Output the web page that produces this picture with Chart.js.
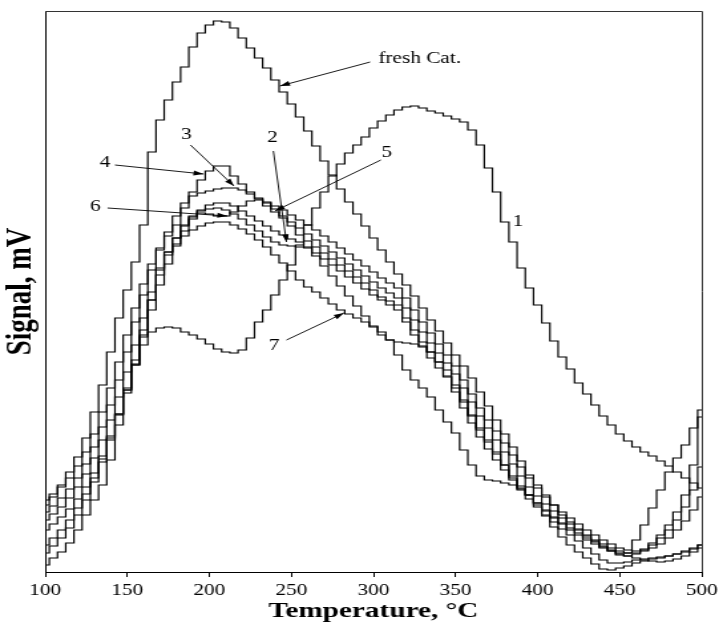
<!DOCTYPE html>
<html>
<head>
<meta charset="utf-8">
<title>Signal vs temperature</title>
<script src="https://cdn.jsdelivr.net/npm/chart.js@4.4.1/dist/chart.umd.min.js"></script>
<style>
  html, body { margin: 0; padding: 0; background: #fff; }
</style>
</head>
<body>
<!-- drawn at 544 px and shown 723 px wide, like the original wide print of the plot -->
<canvas id="tpr" width="544" height="627" style="display:block;width:723px;height:627px"></canvas>
<script>
// temperature grid, °C
const temps = [100,105,110,115,120,125,130,135,140,145,150,155,160,165,170,175,180,185,190,195,
  200,205,210,215,220,225,230,235,240,245,250,255,260,265,270,275,280,285,290,295,
  300,305,310,315,320,325,330,335,340,345,350,355,360,365,370,375,380,385,390,395,
  400,405,410,415,420,425,430,435,440,445,450,455,460,465,470,475,480,485,490,495,500];

// detector signal (arbitrary units above the baseline)
const freshCat = [67,75,87,100,115,134,160,187,220,254, 282,310,347,420,452,472,490,505,525,539,
  547,551,550,544,534,524,514,504,492,480, 468,455,441,426,411,397,383,370,358,346,
  334,322,310,298,287,276,264,252,241,229, 217,206,194,180,166,152,138,125,111,97,
  87,77,67,57,50,43,36,31,26,22, 19,19,32,47,64,82,100,114,127,144, 162];
const sample1 = [7,14,20,29,42,57,72,87,112,147, 179,207,227,240,244,245,244,240,237,233,
  228,223,220,219,222,234,250,262,277,292, 307,327,347,364,380,396,408,419,427,435,
  444,451,457,462,465,466,464,461,459,456, 453,450,442,427,404,380,350,330,304,284,
  267,249,231,215,203,189,178,167,156,147, 138,131,125,120,116,111,106,100,94,89, 84];
const sample2 = [27,34,42,52,64,78,94,113,134,158, 184,212,242,272,297,317,334,347,356,361,
  363,364,362,358,353,347,341,335,330,327, 326,325,324,316,306,296,286,276,266,256,
  246,237,232,230,229,228,226,220,210,196, 180,164,149,135,123,112,102,92,82,73,
  65,57,50,43,37,31,24,18,12,9, 9,10,12,13,14,15,16,18,20,23, 27];
const sample3 = [60,66,74,83,94,108,125,145,167,192, 220,250,277,302,322,340,356,369,376,379,
  381,383,384,384,382,378,374,370,366,362, 357,352,347,342,336,330,324,318,312,306,
  300,294,289,284,274,262,250,239,228,217, 206,192,178,164,152,141,129,117,105,94,
  84,75,67,60,54,48,42,37,32,28, 24,22,21,23,27,34,42,52,65,82, 105];
const sample4 = [72,78,85,94,106,120,138,160,184,210, 237,264,288,308,324,336,347,364,380,392,
  401,406,406,396,388,380,373,366,360,354, 346,337,331,325,319,313,307,301,295,289,
  282,275,271,267,254,242,230,220,210,202, 187,172,157,144,132,120,107,94,84,77,
  69,62,55,49,44,39,34,30,25,21, 17,16,18,22,29,37,47,60,77,107, 155];
const sample5 = [52,58,65,74,85,98,114,132,152,175, 200,227,254,280,302,320,334,346,355,359,
  358,356,356,360,366,371,372,369,363,356, 350,344,338,332,326,320,314,308,302,296,
  290,284,279,274,264,252,240,229,219,209, 198,184,170,156,144,132,120,108,96,85,
  76,68,61,54,48,42,37,32,28,24, 21,19,19,21,24,28,34,42,51,62, 75];
const sample6 = [42,48,55,63,73,85,99,116,136,158, 182,208,235,262,287,308,326,341,353,362,
  367,369,369,366,361,356,351,346,341,337, 333,330,325,319,313,307,301,295,289,283,
  277,272,267,262,250,237,225,214,204,195, 184,170,156,142,130,118,107,96,86,77,
  69,61,54,48,42,37,32,28,24,21, 18,16,14,12,11,10,11,13,16,20, 24];
const sample7 = [19,26,34,44,57,72,90,110,132,157, 182,207,237,272,304,320,328,336,342,346,
  349,350,350,347,343,338,332,325,317,309, 301,292,285,280,274,268,262,258,254,250,
  245,240,232,217,202,192,184,175,162,150, 139,122,107,96,92,91,89,87,83,77,
  67,56,45,35,27,20,14,8,3,2, 4,6,9,11,13,14,16,18,21,24, 27];

const seriesNames = ['fresh Cat.', '1', '2', '3', '4', '5', '6', '7'];
const signals = [freshCat, sample1, sample2, sample3, sample4, sample5, sample6, sample7];
const xTicks = [100, 150, 200, 250, 300, 350, 400, 450, 500];

// curve labels with leader arrows, in data units [°C, signal]
const callouts = [
  { text: 'fresh Cat.', at: [303, 513], align: 'left', from: [298, 510], to: [243, 486] },
  { text: '1', at: [388, 350] },
  { text: '2', at: [238.5, 434], from: [239, 421], to: [247, 330] },
  { text: '3', at: [186, 437], from: [188.5, 427], to: [215, 386] },
  { text: '4', at: [136.5, 409], from: [142.5, 407], to: [196.5, 398] },
  { text: '5', at: [308, 419], from: [304.5, 412], to: [240, 361] },
  { text: '6', at: [130.5, 365], from: [138, 364], to: [211, 356] },
  { text: '7', at: [239.5, 226], from: [247, 232], to: [282, 259] }
];

const serif = "'Liberation Serif', 'Times New Roman', Times, serif";

function arrow(ctx, x1, y1, x2, y2) {
  const a = Math.atan2(y2 - y1, x2 - x1);
  ctx.beginPath();
  ctx.moveTo(x1, y1);
  ctx.lineTo(x2, y2);
  ctx.stroke();
  ctx.beginPath();
  ctx.moveTo(x2, y2);
  ctx.lineTo(x2 - 8 * Math.cos(a - 0.32), y2 - 8 * Math.sin(a - 0.32));
  ctx.lineTo(x2 - 8 * Math.cos(a + 0.32), y2 - 8 * Math.sin(a + 0.32));
  ctx.closePath();
  ctx.fill();
}

const calloutPlugin = {
  id: 'callouts',
  afterDraw(chart) {
    const { ctx, chartArea: area, scales: { x, y } } = chart;
    ctx.save();
    // top and right edges of the box
    ctx.strokeStyle = '#333';
    ctx.lineWidth = 1;
    ctx.beginPath();
    ctx.moveTo(area.left, Math.round(area.top) + 0.5);
    ctx.lineTo(Math.round(area.right) + 0.5, Math.round(area.top) + 0.5);
    ctx.lineTo(Math.round(area.right) + 0.5, area.bottom);
    ctx.stroke();

    ctx.strokeStyle = '#000';
    ctx.fillStyle = '#000';
    ctx.lineWidth = 0.9;
    ctx.font = '16px ' + serif;
    ctx.textBaseline = 'middle';
    callouts.forEach(c => {
      if (c.from) {
        arrow(ctx, x.getPixelForValue(c.from[0]), y.getPixelForValue(c.from[1]),
                   x.getPixelForValue(c.to[0]), y.getPixelForValue(c.to[1]));
      }
      ctx.textAlign = c.align || 'center';
      ctx.fillText(c.text, x.getPixelForValue(c.at[0]), y.getPixelForValue(c.at[1]));
    });
    ctx.restore();
  }
};

new Chart(document.getElementById('tpr'), {
  type: 'line',
  data: {
    labels: temps,
    datasets: seriesNames.map((name, i) => ({
      label: name,
      data: signals[i],
      borderColor: '#000',
      borderWidth: 1.2,
      pointRadius: 0,
      stepped: 'middle',
      fill: false
    }))
  },
  options: {
    responsive: false,
    devicePixelRatio: 1,
    animation: false,
    layout: { padding: { top: 11, right: 14, bottom: 0, left: 0 } },
    plugins: { legend: { display: false }, tooltip: { enabled: false } },
    scales: {
      x: {
        type: 'linear',
        min: 100,
        max: 500,
        afterBuildTicks: s => { s.ticks = xTicks.map(v => ({ value: v })); },
        afterFit: s => { s.height = 55; },
        ticks: { color: '#000', font: { family: serif, size: 16 }, padding: 4, maxRotation: 0 },
        grid: { display: true, drawOnChartArea: false, drawTicks: true, tickLength: 5, color: '#000' },
        border: { display: true, color: '#000', width: 1 },
        title: {
          display: true,
          text: 'Temperature, °C',
          color: '#000',
          font: { family: serif, size: 22, weight: 'bold' },
          padding: { top: 0, bottom: 2 }
        }
      },
      y: {
        min: 0,
        max: 561,
        afterFit: s => { s.width = 34; },
        ticks: { display: false },
        grid: { display: false },
        border: { display: true, color: '#000', width: 1 },
        title: {
          display: true,
          text: 'Signal, mV',
          color: '#000',
          font: { family: serif, size: 27, weight: 'bold' },
          padding: { top: 0, bottom: 0 }
        }
      }
    }
  },
  plugins: [calloutPlugin]
});
</script>
</body>
</html>
